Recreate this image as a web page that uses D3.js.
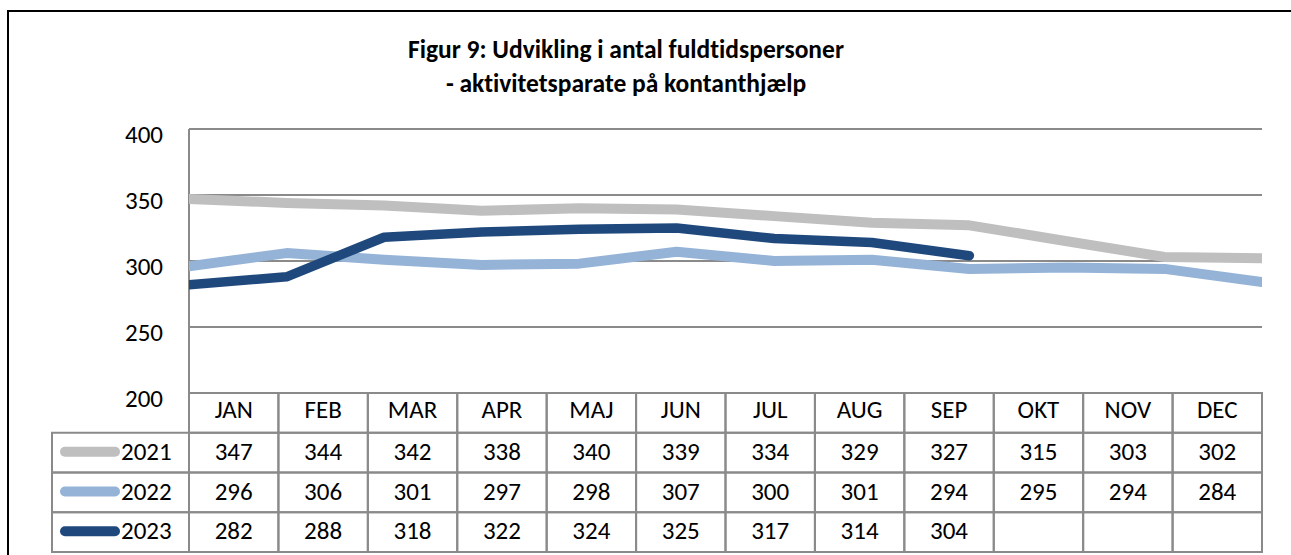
<!DOCTYPE html>
<html>
<head>
<meta charset="utf-8">
<script src="https://cdn.jsdelivr.net/npm/d3@7"></script>
<style>
  body { margin: 0; background: #fff; }
  text { font-family: Carlito, Calibri, Lato, sans-serif; fill: #000; font-variant-ligatures: none; }
</style>
</head>
<body>
<div id="chart"></div>
<script>
// Data
var months = ['JAN', 'FEB', 'MAR', 'APR', 'MAJ', 'JUN', 'JUL', 'AUG', 'SEP', 'OKT', 'NOV', 'DEC'];
var years = ['2021', '2022', '2023'];
var values2021 = [347, 344, 342, 338, 340, 339, 334, 329, 327, 315, 303, 302];
var values2022 = [296, 306, 301, 297, 298, 307, 300, 301, 294, 295, 294, 284];
var values2023 = [282, 288, 318, 322, 324, 325, 317, 314, 304];
var yTicks = [200, 250, 300, 350, 400];
var colors = ['#bfbfbf', '#95b3d7', '#1f497d'];

var series = [values2021, values2022, values2023];

var width = 1291, height = 555;
var plot = {left: 189, right: 1262, top: 129, bottom: 393};
var rowH = 39.75;
var gridColor = '#8a8a8a';
var fontSize = '25px';

var svg = d3.select('#chart').append('svg')
    .attr('width', width)
    .attr('height', height);

// outer frame
svg.append('rect')
    .attr('x', 8).attr('y', 11)
    .attr('width', 1300).attr('height', 600)
    .attr('fill', 'none')
    .attr('stroke', '#000')
    .attr('stroke-width', 2);

// title
var title = svg.append('text')
    .attr('x', 626).attr('y', 58)
    .attr('text-anchor', 'middle')
    .style('font-weight', 'bold')
    .style('font-size', '25.5px');
title.append('tspan').attr('x', 626).text('Figur 9: Udvikling i antal fuldtidspersoner');
title.append('tspan').attr('x', 626).attr('dy', 34).text('- aktivitetsparate på kontanthjælp');

// Scales
var xPoint = d3.scalePoint().domain(months).range([plot.left, plot.right]);
var xBand = d3.scaleBand().domain(months).range([plot.left, plot.right]);
var yScale = d3.scaleLinear().domain([200, 400]).range([plot.bottom, plot.top]);

// gridlines
svg.append('g').selectAll('line').data(yTicks).enter().append('line')
    .attr('x1', plot.left).attr('x2', plot.right)
    .attr('y1', (d) => yScale(d)).attr('y2', (d) => yScale(d))
    .attr('stroke', gridColor)
    .attr('stroke-width', 2);

// left border of plot
svg.append('line')
    .attr('x1', plot.left).attr('x2', plot.left)
    .attr('y1', plot.top).attr('y2', plot.bottom)
    .attr('stroke', gridColor).attr('stroke-width', 2);

// y axis labels
var yAxis = d3.axisLeft(yScale).tickValues(yTicks).tickSize(0).tickPadding(26);
var gY = svg.append('g').attr('transform', `translate(${plot.left},0)`).call(yAxis);
gY.select('.domain').remove();
gY.selectAll('text')
    .style('font-size', fontSize)
    .attr('font-family', null)
    .attr('dy', 13);

// lines
svg.append('clipPath').attr('id', 'plotClip')
    .append('rect')
    .attr('x', plot.left).attr('y', plot.top - 20)
    .attr('width', plot.right - plot.left).attr('height', plot.bottom - plot.top + 20);

var line = d3.line()
    .x((d, i) => xPoint(months[i]))
    .y((d) => yScale(d));

svg.append('g').attr('clip-path', 'url(#plotClip)')
    .selectAll('path').data(series).enter().append('path')
    .attr('d', (d) => line(d))
    .attr('fill', 'none')
    .attr('stroke', (d, i) => colors[i])
    .attr('stroke-width', (d, i) => i === 2 ? 9.5 : 10)
    .attr('stroke-linecap', 'round')
    .attr('stroke-linejoin', 'round');

// data table
var table = svg.append('g');
var legendLeft = 52;

// header row cells
table.selectAll('.hcell').data(months).enter().append('rect')
    .attr('class', 'hcell')
    .attr('x', (d) => xBand(d))
    .attr('y', plot.bottom)
    .attr('width', xBand.bandwidth())
    .attr('height', rowH)
    .attr('fill', 'none')
    .attr('stroke', gridColor)
    .attr('stroke-width', 2);

table.selectAll('.htext').data(months).enter().append('text')
    .attr('class', 'htext')
    .attr('x', (d) => xBand(d) + xBand.bandwidth() / 2)
    .attr('y', plot.bottom + 25)
    .attr('text-anchor', 'middle')
    .style('font-size', fontSize)
    .text((d) => d);

years.forEach(function(yr, r) {
    var y0 = plot.bottom + rowH * (r + 1);
    // legend cell
    table.append('rect')
        .attr('x', legendLeft).attr('y', y0)
        .attr('width', plot.left - legendLeft).attr('height', rowH)
        .attr('fill', 'none').attr('stroke', gridColor).attr('stroke-width', 2);
    table.append('line')
        .attr('x1', 65).attr('x2', 115)
        .attr('y1', y0 + 19).attr('y2', y0 + 19)
        .attr('stroke', colors[r])
        .attr('stroke-width', 10)
        .attr('stroke-linecap', 'round');
    table.append('text')
        .attr('x', 121).attr('y', y0 + 27)
        .style('font-size', fontSize)
        .text(yr);

    table.selectAll('.c' + yr).data(months).enter().append('rect')
        .attr('x', (d) => xBand(d)).attr('y', y0)
        .attr('width', xBand.bandwidth()).attr('height', rowH)
        .attr('fill', 'none').attr('stroke', gridColor).attr('stroke-width', 2);

    table.selectAll('.t' + yr).data(series[r]).enter().append('text')
        .attr('x', (d, i) => xBand(months[i]) + xBand.bandwidth() / 2)
        .attr('y', y0 + 27)
        .attr('text-anchor', 'middle')
        .style('font-size', fontSize)
        .text((d) => d);
});
</script>
</body>
</html>
